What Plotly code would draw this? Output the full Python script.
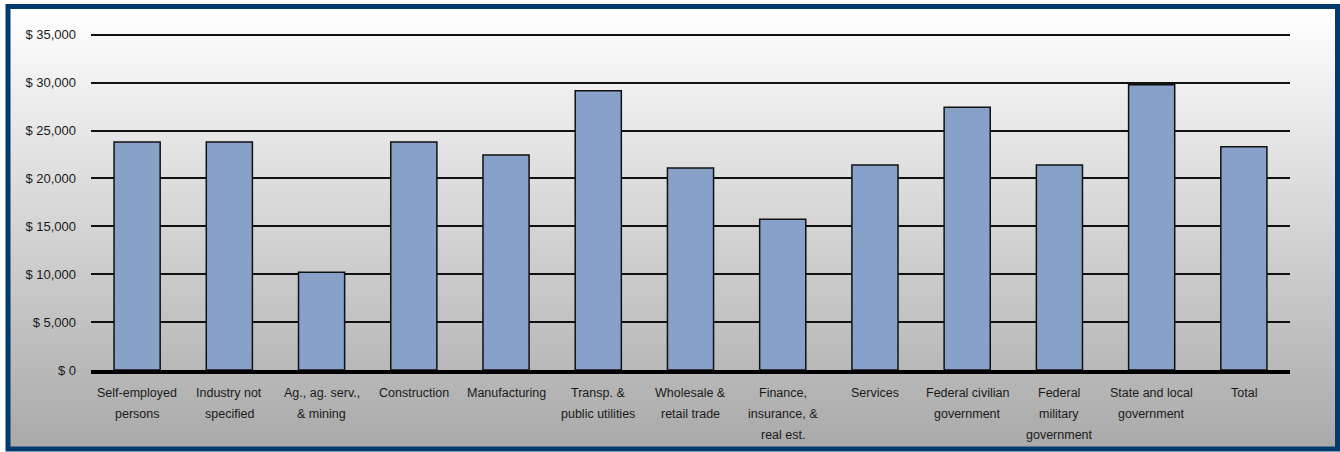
import base64
import plotly.graph_objects as go

# ---- data ----
categories = [
    "Self-employed<br>persons",
    "Industry not<br>specified",
    "Ag., ag. serv.,<br>& mining",
    "Construction",
    "Manufacturing",
    "Transp. &<br>public utilities",
    "Wholesale &<br>retail trade",
    "Finance,<br>insurance, &<br>real est.",
    "Services",
    "Federal civilian<br>government",
    "Federal<br>military<br>government",
    "State and local<br>government",
    "Total",
]
values = [23800, 23800, 10200, 23800, 22450, 29150, 21100, 15750, 21400, 27450, 21400, 29800, 23300]
y_ticks = [0, 5000, 10000, 15000, 20000, 25000, 30000, 35000]
y_ticktext = ["$ 0", "$ 5,000", "$ 10,000", "$ 15,000", "$ 20,000", "$ 25,000", "$ 30,000", "$ 35,000"]

W, H = 1340, 452
ML, MR, MT, MB = 91, 50, 31, 82
PW, PH = W - ML - MR, H - MT - MB

FONT = "Liberation Sans, Arial, sans-serif"

fig = go.Figure()
fig.add_trace(go.Bar(
    x=categories, y=values,
    marker=dict(color="#87A1C9", line=dict(color="#111111", width=1.5)),
    hoverinfo="skip",
))

# background gradient + border as an SVG image
svg = f"""<svg xmlns='http://www.w3.org/2000/svg' width='{W}' height='{H}' viewBox='0 0 {W} {H}' preserveAspectRatio='none'>
<defs><linearGradient id='g' x1='0' y1='0' x2='0' y2='1'>
<stop offset='0' stop-color='#ffffff'/><stop offset='1' stop-color='#a9a9a9'/></linearGradient></defs>
<rect x='8' y='6.5' width='1329.5' height='442.5' fill='url(#g)' stroke='#023a6f' stroke-width='5'/>
</svg>"""
src = "data:image/svg+xml;base64," + base64.b64encode(svg.encode()).decode()

annotations = []
for cat in categories:
    for i, line in enumerate(cat.split("<br>")):
        annotations.append(dict(
            x=cat, xref="x", y=0, yref="paper",
            text=line, showarrow=False,
            yanchor="middle", xanchor="center",
            yshift=-23 - 21 * i,
            font=dict(family=FONT, size=12.5, color="#1a1a1a"),
        ))

fig.update_layout(
    width=W, height=H,
    margin=dict(l=ML, r=MR, t=MT, b=MB, pad=0),
    paper_bgcolor="white",
    plot_bgcolor="rgba(0,0,0,0)",
    bargap=0.5,
    showlegend=False,
    images=[dict(
        source=src, xref="paper", yref="paper",
        x=-ML / PW, y=1 + MT / PH,
        sizex=W / PW, sizey=H / PH,
        xanchor="left", yanchor="top",
        sizing="stretch", layer="below",
    )],
    annotations=annotations,
    xaxis=dict(
        showticklabels=False, showgrid=False, zeroline=False,
        showline=True, linecolor="#000000", linewidth=4,
        ticks="",
    ),
    yaxis=dict(
        range=[0, 35400],
        tickvals=y_ticks, ticktext=y_ticktext,
        showgrid=True, gridcolor="#111111", gridwidth=1.5,
        zeroline=False, showline=False, ticks="",
        ticklabelstandoff=14,
        tickfont=dict(family=FONT, size=13, color="#1a1a1a"),
    ),
)

fig.write_html("out.html")
